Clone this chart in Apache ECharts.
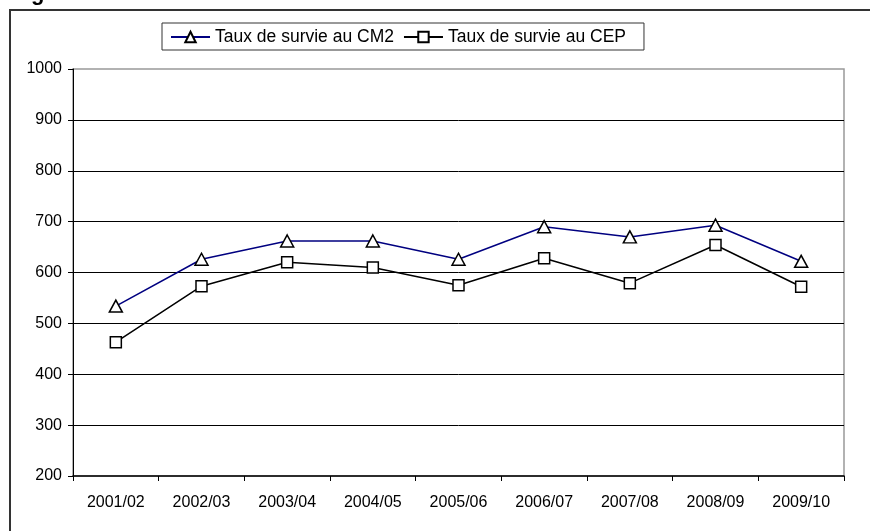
<!DOCTYPE html>
<html>
<head>
<meta charset="utf-8">
<script src="https://cdn.jsdelivr.net/npm/echarts@6/dist/echarts.min.js"></script>
<style>
  html, body { margin: 0; padding: 0; background: #fff; }
  #chart { width: 870px; height: 531px; }
</style>
</head>
<body>
<div id="chart"></div>
<script>
// années scolaires
var annees = ['2001/02', '2002/03', '2003/04', '2004/05', '2005/06', '2006/07', '2007/08', '2008/09', '2009/10'];
// taux de survie (pour mille)
var survieCM2 = [534, 626, 662, 662, 626, 690, 670, 693, 622];
var survieCEP = [463, 573, 620, 610, 575, 628, 579, 654, 572];
var yTicks = [200, 1000, 100]; // min, max, pas

var font = 'Liberation Sans, Arial, sans-serif';

var myChart = echarts.init(document.getElementById('chart'));
var option = {
  animation: false,
  backgroundColor: '#fff',
  textStyle: { fontFamily: font },
  graphic: [
    {
      type: 'rect',
      shape: { x: 10, y: 10, width: 900, height: 560 },
      style: { fill: 'none', stroke: '#333', lineWidth: 2 },
      z: 0
    },
    {
      // bas du titre coupé au-dessus du cadre
      type: 'text',
      x: 31, y: -17,
      style: { text: 'g', font: 'bold 22px ' + font, fill: '#000', verticalAlign: 'top' }
    }
  ],
  legend: {
    left: 162,
    top: 23,
    padding: [5, 18, 4, 8],
    itemGap: 9,
    itemWidth: 39,
    itemHeight: 13,
    borderColor: '#333',
    borderWidth: 1,
    borderRadius: 0,
    textStyle: { fontSize: 17.5, color: '#000', fontFamily: font },
    data: ['Taux de survie au CM2', 'Taux de survie au CEP']
  },
  grid: {
    left: 73,
    right: 26,
    top: 69,
    bottom: 55,
    show: true,
    borderColor: '#999',
    borderWidth: 1.5,
    backgroundColor: '#fff'
  },
  xAxis: {
    type: 'category',
    data: annees,
    boundaryGap: true,
    axisLine: { lineStyle: { color: '#000', width: 1.5 } },
    axisTick: { show: true, interval: 0, length: 5, inside: false, lineStyle: { color: '#000' } },
    axisLabel: { color: '#000', fontSize: 16, margin: 19, interval: 0 },
    splitLine: { show: false }
  },
  yAxis: {
    type: 'value',
    min: yTicks[0],
    max: yTicks[1],
    interval: yTicks[2],
    axisLine: { show: true, lineStyle: { color: '#000', width: 1 } },
    axisTick: { show: true, length: 5, inside: false, lineStyle: { color: '#000' } },
    axisLabel: { color: '#000', fontSize: 16, margin: 11, formatter: function (v) { return String(v); } },
    splitLine: { show: true, showMinLine: false, showMaxLine: false, lineStyle: { color: '#000', width: 1 } }
  },
  series: [
    {
      name: 'Taux de survie au CM2',
      type: 'line',
      data: survieCM2,
      symbol: 'triangle',
      symbolSize: [13, 12],
      showAllSymbol: true,
      lineStyle: { color: '#000080', width: 1.5 },
      itemStyle: { color: '#fff', borderColor: '#000', borderWidth: 1.5 },
      emphasis: { disabled: true },
      z: 3
    },
    {
      name: 'Taux de survie au CEP',
      type: 'line',
      data: survieCEP,
      symbol: 'rect',
      symbolSize: 11,
      showAllSymbol: true,
      lineStyle: { color: '#000', width: 1.5 },
      itemStyle: { color: '#fff', borderColor: '#000', borderWidth: 1.5 },
      emphasis: { disabled: true },
      z: 2
    }
  ]
};
myChart.setOption(option);
</script>
</body>
</html>
